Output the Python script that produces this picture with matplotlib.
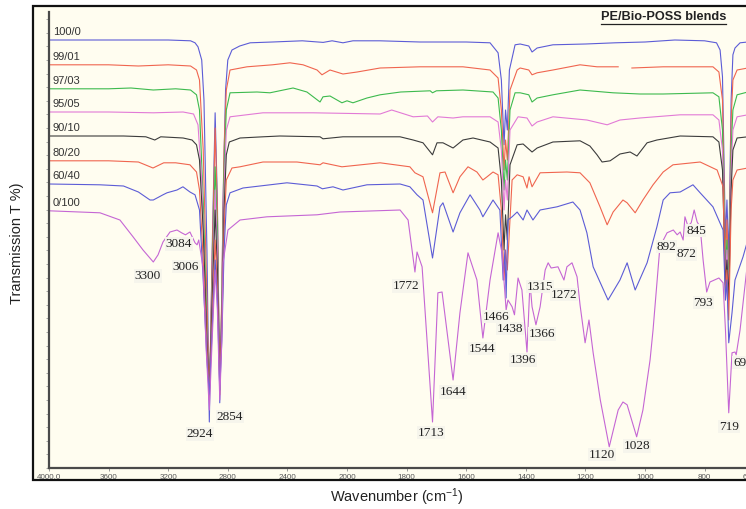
import numpy as np
import matplotlib
matplotlib.use("Agg")
import matplotlib.pyplot as plt
from matplotlib.patches import Rectangle
from matplotlib.lines import Line2D

plt.rcParams["font.family"] = ["Liberation Sans", "DejaVu Sans"]
plt.rcParams["mathtext.fontset"] = "custom"
plt.rcParams["mathtext.rm"] = "Liberation Sans"
plt.rcParams["mathtext.it"] = "Liberation Sans:italic"
plt.rcParams["mathtext.bf"] = "Liberation Sans:bold"

# ---- FTIR spectra (wavenumber cm-1, transmission, stacked with offsets) ----
pe_100_0 = [(4000, 107), (3600, 107), (3200, 107), (3050, 106.8), (3020, 106.3), (3000, 105.3),
            (2975, 102), (2960, 92), (2940, 54.5), (2924, 11.5), (2905, 54.5), (2885, 88.8),
            (2870, 67), (2854, 16.3), (2840, 42), (2832, 67), (2815, 94.5), (2800, 102),
            (2772, 104.5), (2720, 105.5), (2650, 106.3), (2500, 106.5), (2300, 106.8),
            (2160, 106.4), (2100, 106.8), (2027, 106.3), (1980, 106.8), (1890, 106.8),
            (1755, 106.5), (1600, 106.5), (1520, 106.3), (1493, 103.8), (1482, 97),
            (1473, 80.8), (1468, 89.5), (1462, 84.5), (1455, 99.5), (1436, 105.8), (1419, 106),
            (1390, 105.5), (1379, 104), (1362, 105), (1309, 105.8), (1200, 106), (1100, 106.3),
            (1000, 106.5), (900, 107), (800, 106.8), (760, 106.3), (748, 104.5), (740, 97.8),
            (730, 57), (725, 67), (719, 52), (711, 92), (705, 103.3), (698, 105), (681, 106.3),
            (655, 106.5)]

pe_99_01 = [(4000, 100.8), (3600, 100.8), (3400, 100.5), (3200, 100.8), (3050, 100.5),
            (3010, 99.5), (2990, 97), (2965, 79.5), (2940, 42), (2924, 17), (2905, 52),
            (2885, 85), (2870, 64.5), (2854, 18.3), (2840, 44.5), (2825, 79.5), (2810, 94.5),
            (2785, 99.5), (2671, 100.3), (2500, 100.8), (2383, 101.3), (2295, 100.8),
            (2201, 99.5), (2168, 98.3), (2114, 99.5), (2027, 98.5), (1966, 99), (1889, 100),
            (1755, 100.3), (1611, 100.3), (1520, 99.5), (1493, 97.5), (1482, 89.5),
            (1473, 74.5), (1468, 82), (1462, 77), (1453, 94.5), (1429, 99.5), (1419, 100),
            (1390, 99.5), (1379, 98.3), (1362, 98.8), (1309, 99.5), (1218, 100.8),
            (1161, 100.3), (1090, 100.3), (1085, np.nan), (1044, 100), (939, 100.3),
            (772, 100.3), (752, 99), (740, 92), (730, 52), (725, 62), (719, 44.5), (711, 87),
            (705, 97), (691, 99.5), (655, 100)]

pe_97_03 = [(4000, 94.8), (3600, 94.8), (3450, 95), (3300, 94.5), (3150, 94.8), (3050, 94.5),
            (3010, 93.3), (2990, 89.5), (2965, 67), (2940, 34.5), (2924, 18.3), (2905, 47),
            (2885, 75.3), (2870, 59.5), (2854, 19.5), (2840, 42), (2825, 74.5), (2810, 89.5),
            (2785, 93.8), (2604, 94), (2517, 93.8), (2362, 95), (2269, 94), (2181, 91.5),
            (2161, 92.8), (2114, 93), (2034, 91.3), (2000, 91.8), (1980, 91.3), (1933, 92.5),
            (1889, 93.3), (1820, 94), (1721, 94.3), (1713, 93.8), (1700, 94.3), (1611, 94.5),
            (1510, 94), (1493, 92.5), (1482, 84.5), (1473, 69.5), (1468, 77), (1462, 72),
            (1453, 89.5), (1436, 93.8), (1419, 93.8), (1390, 93.3), (1379, 91.5), (1362, 92.5),
            (1309, 93.3), (1218, 94.5), (1107, 93.8), (1017, 93.5), (939, 93.5), (772, 93.8),
            (752, 92.8), (740, 84.5), (730, 49.5), (725, 57), (719, 44.5), (711, 79.5),
            (705, 89.5), (691, 93.3), (655, 94)]

pe_95_05 = [(4000, 89), (3600, 89), (3300, 88.8), (3100, 89), (3030, 88.5), (3000, 85.8),
            (2975, 72), (2950, 42), (2924, 19.5), (2905, 44.5), (2885, 69.5), (2870, 54.5),
            (2854, 20.8), (2840, 39.5), (2825, 69.5), (2810, 84.5), (2785, 87.8), (2564, 88.8),
            (2228, 88.8), (1889, 88.5), (1850, 89.5), (1778, 87.8), (1730, 88), (1713, 86.5),
            (1695, 87.8), (1644, 87.5), (1611, 87.8), (1520, 87.8), (1493, 86.5), (1482, 79.5),
            (1473, 64.5), (1468, 72), (1462, 67), (1453, 84.5), (1426, 87.8), (1396, 87.5),
            (1379, 85.5), (1362, 86.5), (1309, 87.8), (1195, 87), (1127, 85.8), (1084, 87),
            (1017, 87.5), (882, 88.3), (772, 88.3), (752, 87), (740, 79.5), (730, 47),
            (725, 54.5), (719, 42), (711, 74.5), (705, 84.5), (691, 87.8), (655, 88.3)]

pe_90_10 = [(4000, 83), (3500, 83), (3350, 82.8), (3290, 82), (3250, 82.8), (3100, 82.5),
            (3040, 82), (3010, 80.8), (2990, 77), (2965, 59.5), (2940, 32), (2924, 19.5),
            (2905, 42), (2885, 64.5), (2870, 49.5), (2854, 22), (2840, 37), (2825, 64.5),
            (2810, 78.3), (2790, 81.5), (2718, 82.5), (2564, 82.8), (2450, 83), (2181, 82.8),
            (2161, 82.3), (2027, 82.8), (1822, 82.8), (1778, 82), (1745, 81.3), (1713, 78.3),
            (1698, 81.3), (1678, 81.3), (1644, 80), (1611, 82), (1577, 82.5), (1520, 81.5),
            (1493, 80), (1482, 72), (1473, 54.5), (1468, 63.3), (1462, 57), (1453, 75.8),
            (1429, 80.8), (1409, 81), (1379, 79), (1362, 80), (1309, 81.5), (1218, 81.8),
            (1185, 80.5), (1161, 78.3), (1144, 76.5), (1117, 76.8), (1084, 78.5), (1050, 79),
            (1027, 78), (993, 81.3), (960, 82), (882, 83), (772, 82.8), (752, 81.5),
            (740, 74.5), (730, 45.8), (725, 52), (719, 42), (711, 69.5), (705, 79.5),
            (691, 82.5), (655, 82.8)]

pe_80_20 = [(4000, 76.8), (3600, 76.8), (3400, 76.5), (3302, 75), (3230, 76.3), (3150, 76.3),
            (3054, 75.8), (3010, 74), (2990, 69.5), (2965, 52), (2940, 29.5), (2924, 19.5),
            (2905, 37), (2885, 57), (2870, 44.5), (2854, 23.3), (2840, 34.5), (2825, 59.5),
            (2810, 72), (2772, 75), (2718, 75.3), (2564, 76.5), (2336, 76.5), (2181, 75.8),
            (2161, 76.3), (2034, 75.3), (1889, 76.3), (1789, 75.3), (1772, 73.8), (1745, 72.8),
            (1713, 63.8), (1688, 73.8), (1671, 74), (1644, 68.8), (1621, 72.8), (1594, 75.3),
            (1564, 74), (1544, 72), (1530, 72.8), (1510, 74), (1493, 73.3), (1482, 64.5),
            (1473, 47), (1468, 54.5), (1462, 49.5), (1446, 72), (1429, 73.3), (1409, 72.8),
            (1396, 70), (1389, 72.8), (1379, 70.3), (1352, 73.8), (1262, 74), (1218, 73.8),
            (1185, 71.3), (1151, 65.3), (1127, 60.8), (1107, 64), (1074, 67), (1060, 66.3),
            (1033, 63.8), (1007, 67), (973, 70.8), (939, 74), (906, 75.8), (815, 76.5),
            (758, 74.5), (738, 70.3), (730, 42), (725, 49.5), (719, 37), (711, 64.5),
            (705, 72), (691, 74.5), (655, 75)]

pe_60_40 = [(4000, 71), (3658, 70.8), (3500, 70.5), (3400, 69), (3322, 67), (3300, 67),
            (3235, 68.3), (3208, 68.8), (3141, 69.5), (3101, 70.3), (3054, 69), (3020, 68.3),
            (2990, 64.5), (2965, 47), (2940, 27), (2924, 18.3), (2905, 34.5), (2885, 52),
            (2870, 42), (2854, 19.5), (2840, 32), (2825, 54.5), (2810, 65.8), (2785, 68.8),
            (2698, 70), (2403, 71.3), (2201, 70.5), (2165, 69.8), (2094, 70.3), (2027, 69.5),
            (1933, 70.8), (1822, 71), (1789, 70.3), (1765, 68.3), (1745, 67), (1713, 52.5),
            (1688, 65.3), (1678, 66.3), (1644, 59), (1621, 63.8), (1587, 68.3), (1554, 64.5),
            (1544, 62.8), (1510, 67), (1487, 64.5), (1476, 47), (1470, 54.5), (1466, 42.5),
            (1460, 62), (1446, 62.8), (1429, 64), (1409, 62), (1396, 64.5), (1376, 62),
            (1352, 64.5), (1295, 65.3), (1242, 66.5), (1218, 64.5), (1195, 58.8), (1174, 50.3),
            (1124, 42), (1084, 47), (1060, 51.3), (1033, 44.5), (993, 51.3), (960, 60.3),
            (939, 67), (916, 68.8), (882, 69), (839, 70.8), (815, 68.8), (772, 65.3),
            (738, 59.5), (730, 42), (725, 47), (719, 31.3), (708, 38.8), (698, 47),
            (671, 52.8), (655, 57)]

pe_0_100 = [(4000, 64.3), (3658, 63.8), (3524, 62), (3436, 57.8), (3369, 54.5), (3300, 51.5),
            (3268, 53.3), (3235, 56.5), (3188, 59), (3141, 59.5), (3110, 58.8), (3084, 58.3),
            (3054, 59), (3020, 56.3), (3006, 55.8), (2995, 57), (2967, 50.3), (2945, 29.5),
            (2924, 14.5), (2905, 32), (2885, 49.5), (2870, 39.5), (2854, 17), (2840, 32),
            (2832, 51.3), (2799, 59.5), (2718, 62), (2537, 62.8), (2201, 63.3), (2047, 64),
            (1822, 64.5), (1795, 62), (1772, 49), (1765, 54), (1748, 50.3), (1713, 11.5),
            (1695, 43.8), (1681, 44), (1644, 22), (1621, 38.8), (1594, 53.8), (1564, 47),
            (1544, 32.5), (1520, 47), (1493, 58.8), (1480, 53.8), (1466, 39.5), (1460, 42),
            (1446, 40.3), (1438, 38.3), (1426, 47.5), (1413, 44.5), (1396, 29), (1386, 46.3),
            (1379, 40.3), (1366, 35.8), (1352, 40.3), (1335, 49.5), (1325, 51.3), (1315, 50),
            (1292, 50.3), (1272, 47), (1262, 50.3), (1245, 51.3), (1228, 47.8), (1218, 40.8),
            (1201, 31.3), (1188, 37), (1174, 28.8), (1150, 17), (1120, 5.3), (1090, 14.5),
            (1074, 16.5), (1060, 15.8), (1028, 7.8), (1007, 14.5), (983, 27), (973, 34.5),
            (950, 55.3), (926, 58.8), (905, 59.5), (892, 58.3), (882, 59), (872, 57),
            (866, 62.8), (856, 60.5), (845, 61.3), (835, 64.5), (825, 61.5), (815, 60.3),
            (805, 52), (793, 44), (782, 46.5), (752, 47.5), (738, 46.3), (730, 34.5),
            (719, 13.8), (708, 28.8), (698, 29), (694, 28.3), (681, 34.5), (655, 52)]

blend_labels = ["100/0", "99/01", "97/03", "95/05", "90/10", "80/20", "60/40", "0/100"]
blend_colors = ["#5c5cd6", "#f0654f", "#3dba4e", "#e27ad6", "#3c3c3c", "#f0654f",
                "#5c5cd6", "#c566d4"]
blend_data = [pe_100_0, pe_99_01, pe_97_03, pe_95_05, pe_90_10, pe_80_20, pe_60_40, pe_0_100]

# band assignments annotated on the neat Bio-POSS spectrum: (text, wavenumber, T)
band_labels = [("3300", 3336, 48), ("3084", 3128, 56), ("3006", 3081, 50.3),
               ("2924", 2987, 8.5), ("2854", 2785, 12.8), ("1772", 1802, 45.5),
               ("1713", 1718, 8.8), ("1644", 1644, 19), ("1544", 1547, 29.8),
               ("1466", 1500, 37.8), ("1438", 1453, 34.8), ("1396", 1409, 27),
               ("1366", 1346, 33.5), ("1315", 1352, 45.3), ("1272", 1272, 43.3),
               ("1120", 1144, 3.3), ("1028", 1027, 5.5), ("892", 929, 55.3),
               ("872", 862, 53.5), ("845", 829, 59.3), ("793", 805, 41.3),
               ("719", 718, 10.3)]

x_ticks = [4000, 3600, 3200, 2800, 2400, 2000, 1800, 1600, 1400, 1200, 1000, 800, 650]
x_tick_labels = ["4000.0", "3600", "3200", "2800", "2400", "2000", "1800", "1600",
                 "1400", "1200", "1000", "800", "650"]


# wavenumber axis: expanded by a factor of two below 2000 cm-1
def fwd(w):
    w = np.asarray(w, dtype=float)
    return np.where(w >= 2000, w, 2 * w - 2000)


def inv(f):
    f = np.asarray(f, dtype=float)
    return np.where(f >= 2000, f, (f + 2000) / 2)


W, H = 746, 509
fig = plt.figure(figsize=(W / 100, H / 100), dpi=100, facecolor="white")

CREAM = "#fffdf0"
frame = Rectangle((33 / W, 1 - 480 / H), (770 - 33) / W, (480 - 6) / H,
                  transform=fig.transFigure, facecolor=CREAM, edgecolor="#111111",
                  linewidth=1.6, zorder=0)
fig.add_artist(frame)

ax = fig.add_axes([49 / W, 1 - 468 / H, 700.3 / W, 456 / H])
ax.set_facecolor("none")
ax.set_xscale("function", functions=(fwd, inv))
ax.set_xlim(4000, 650)
ax.set_ylim(0, 114)

for name, pts, col in zip(blend_labels, blend_data, blend_colors):
    w, t = zip(*pts)
    ax.plot(w, t, color=col, lw=0.8, solid_joinstyle="round")
    ax.annotate(name, (3975, t[0]), xytext=(0, 5.5), textcoords="offset points",
                ha="left", va="center", fontsize=8, color="#333333")

label_box = dict(boxstyle="square,pad=0.05", fc="#f6f5ec", ec="none")
for txt, w, t in band_labels:
    ax.text(w, t, txt, ha="center", va="center", fontsize=9.5, color="#222222",
            family=["Liberation Serif"], bbox=label_box)
ax.text(705, 26.3, "694", ha="left", va="center", fontsize=9.5, color="#222222",
        family=["Liberation Serif"], bbox=label_box)

for side in ("top", "right"):
    ax.spines[side].set_visible(False)
for side in ("left", "bottom"):
    ax.spines[side].set_color("#4a4a4a")
    ax.spines[side].set_linewidth(1.6)

ax.set_xticks(x_ticks)
ax.set_xticklabels(x_tick_labels)
ax.xaxis.set_minor_locator(matplotlib.ticker.NullLocator())
ax.tick_params(axis="x", direction="out", length=2.5, width=0.6, color="#888888",
               labelsize=5.8, labelcolor="#555555", pad=1.5)
ax.set_yticks(np.arange(0, 114, 3.4))
ax.tick_params(axis="y", direction="out", length=2.5, width=0.6, color="#999999",
               labelleft=False)

fig.text(17 / W, 1 - 243 / H, "Transmission T %)", rotation=90, ha="center",
         va="center", fontsize=10.5, color="#222222")
fig.text(397 / W, 1 - 497 / H, r"Wavenumber (cm$^{-1}$)", ha="center", va="center",
         fontsize=10.5, color="#222222")

title = fig.text(663.5 / W, 1 - 17 / H, "PE/Bio-POSS blends", ha="center", va="center",
                 fontsize=9.2, fontweight="bold", color="#222222")
fig.canvas.draw()
bb = title.get_window_extent()
uy = (bb.y0 - 1.0) / H
fig.add_artist(Line2D([bb.x0 / W, bb.x1 / W], [uy, uy], transform=fig.transFigure,
                      color="#222222", lw=0.9))

fig.savefig("out.png", dpi=100, facecolor="white")
